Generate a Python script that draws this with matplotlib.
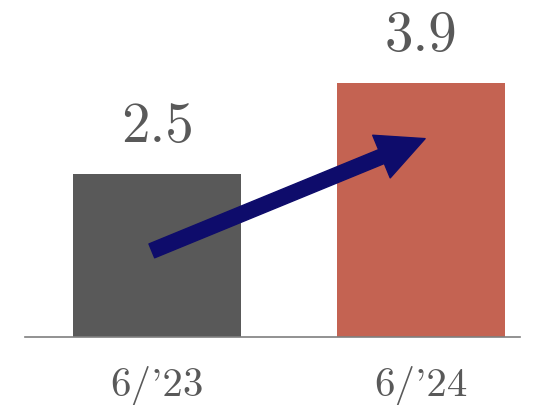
import matplotlib.pyplot as plt

periods = ["6/'23", "6/'24"]
values = [2.5, 3.9]
bar_colors = ["#595959", "#C46352"]

# arrow drawn between the two bars (data coords)
arrow_tail = (-0.02, 1.32)
arrow_tip = (1.015, 3.04)

plt.rcParams['font.family'] = ['cmr10', 'DejaVu Serif']
plt.rcParams['axes.formatter.use_mathtext'] = True

fig = plt.figure(figsize=(5.33, 4.06), dpi=100)
ax = fig.add_axes([0.047, 0.1675, 0.929, 0.8325])

x = range(len(values))
bars = ax.bar(x, values, width=0.636, color=bar_colors)

for i, v in enumerate(values):
    ax.annotate(f"{v}", xy=(i, v), xytext=(0, 23.5), textcoords="offset points",
                ha="center", va="baseline", fontsize=41, color="#595959")

ax.annotate("", xy=arrow_tip, xytext=arrow_tail,
            arrowprops=dict(arrowstyle="simple,head_length=1.7,head_width=1.66,tail_width=0.54",
                            color="#0E0C6B", mutation_scale=20, shrinkA=0, shrinkB=0))

ax.set_xlim(-0.5, 1.375)
ax.set_ylim(0, 5.18)
ax.set_xticks(list(x))
ax.set_xticklabels(periods, fontsize=29.5, color="#595959")
ax.tick_params(axis="x", length=0, pad=20)
ax.set_yticks([])
for side in ["top", "right", "left"]:
    ax.spines[side].set_visible(False)
ax.spines["bottom"].set_color("#7F7F7F")
ax.spines["bottom"].set_linewidth(1.2)

fig.savefig("out.png", dpi=100)
